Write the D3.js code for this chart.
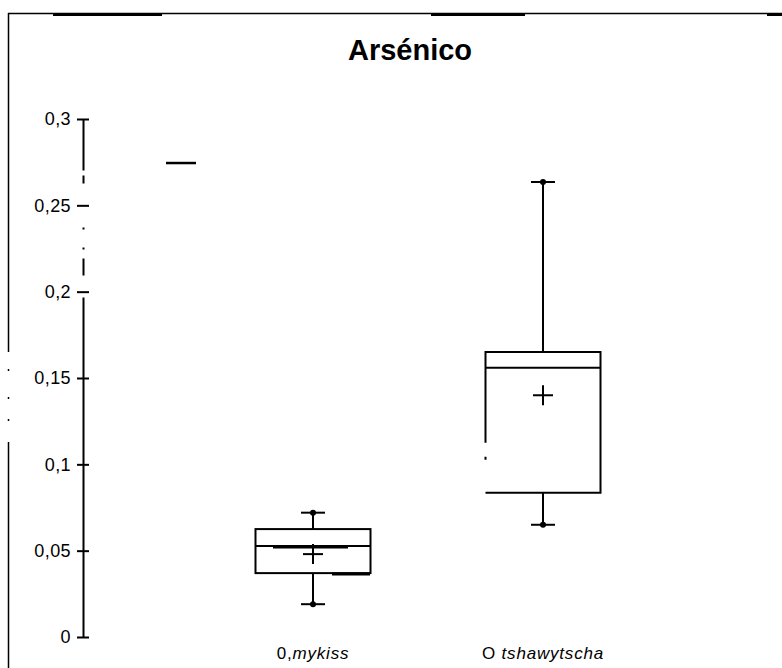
<!DOCTYPE html>
<html lang="es">
<head>
    <title>Arsénico - box plot</title>
    <meta charset="UTF-8">
    <script type="text/javascript" src="https://cdn.jsdelivr.net/npm/d3@7"></script>
    <style>
        body {
            margin: 0;
            background: #fff;
        }

        svg text {
            font-family: "Liberation Sans", Arial, sans-serif;
            fill: #000;
        }

        .title {
            font-size: 29px;
            font-weight: bold;
        }

        .axis text {
            font-size: 18px;
            letter-spacing: 0.4px;
        }

        .cat-label {
            font-size: 17px;
            letter-spacing: 0.8px;
        }
    </style>
</head>
<body>
<div id="chart"></div>

<script type="text/javascript">
    // species labels as printed under the boxes
    var labelPrefix = ['0,', 'O '];
    var labelSpecies = ['mykiss', 'tshawytscha'];

    // box plot statistics
    var whiskerLow = [0.019, 0.065];
    var q1 = [0.037, 0.0835];
    var median = [0.0527, 0.156];
    var q3 = [0.0625, 0.165];
    var whiskerHigh = [0.072, 0.2635];
    var mean = [0.048, 0.14];

    var yTicks = [0, 0.05, 0.1, 0.15, 0.2, 0.25, 0.3];

    var width = 782, height = 668;
    var margin = {top: 119, right: 9, bottom: 31, left: 83};

    var svg = d3.select('#chart')
        .append('svg')
        .attr('width', width)
        .attr('height', height);

    var x = d3.scalePoint()
        .domain(labelSpecies)
        .range([margin.left, width - margin.right])
        .padding(1);

    var y = d3.scaleLinear()
        .domain([0, 0.3])
        .range([height - margin.bottom, margin.top]);

    var locale = d3.formatLocale({decimal: ',', thousands: '.', grouping: [3], currency: ['', '']});
    var fmt = locale.format('~g');

    // frame (scanned border, partly heavier)
    var frame = svg.append('g').attr('stroke', '#000').attr('fill', 'none');
    frame.append('line')
        .attr('x1', 8).attr('x2', width).attr('y1', 13.5).attr('y2', 13.5)
        .attr('stroke-width', 1.5);
    frame.append('line')
        .attr('x1', 8.5).attr('x2', 8.5).attr('y1', 13).attr('y2', height)
        .attr('stroke-width', 1.5)
        .attr('stroke-dasharray', '339 17 2 26 2 20 2 21 2000');
    [[53, 162], [431, 525], [767, 782]].forEach(function (s) {
        frame.append('line')
            .attr('x1', s[0]).attr('x2', s[1]).attr('y1', 14.5).attr('y2', 14.5)
            .attr('stroke-width', 3);
    });

    svg.append('text')
        .attr('class', 'title')
        .attr('x', 410)
        .attr('y', 60)
        .attr('text-anchor', 'middle')
        .text('Arsénico');

    // y axis, ticks crossing the line
    var yAxis = svg.append('g')
        .attr('class', 'axis')
        .attr('transform', 'translate(' + margin.left + ',0)')
        .call(d3.axisLeft(y).tickValues(yTicks).tickFormat(fmt).tickSizeOuter(0).tickPadding(6));
    yAxis.select('.domain')
        .attr('stroke-width', 2)
        .attr('stroke-dasharray', '340 22 17 9 2 18 2 44 8 5 51');
    yAxis.selectAll('.tick line')
        .attr('x1', -6).attr('x2', 6)
        .attr('stroke-width', 2);
    yAxis.selectAll('.tick text')
        .attr('fill', '#000');

    var boxW = 115, capW = 12, crossW = 10;

    var boxes = svg.append('g')
        .attr('stroke', '#000')
        .attr('stroke-width', 2)
        .attr('fill', 'none');

    labelSpecies.forEach(function (sp, i) {
        var cx = x(sp);
        var g = boxes.append('g');

        // whiskers
        g.append('line').attr('x1', cx).attr('x2', cx).attr('y1', y(q3[i])).attr('y2', y(whiskerHigh[i]));
        g.append('line').attr('x1', cx).attr('x2', cx).attr('y1', y(q1[i])).attr('y2', y(whiskerLow[i]));
        [whiskerLow[i], whiskerHigh[i]].forEach(function (v) {
            g.append('line').attr('x1', cx - capW).attr('x2', cx + capW).attr('y1', y(v)).attr('y2', y(v));
            g.append('circle').attr('cx', cx).attr('cy', y(v)).attr('r', 3).attr('fill', '#000').attr('stroke', 'none');
        });

        // box
        var h = y(q1[i]) - y(q3[i]);
        var rect = g.append('rect')
            .attr('x', cx - boxW / 2)
            .attr('y', y(q3[i]))
            .attr('width', boxW)
            .attr('height', h)
            .attr('fill', '#fff');
        if (i === 1) {
            // broken left edge of the scan
            rect.attr('stroke-dasharray', [boxW + h + boxW, 33, 3, 14, h - 50].join(' '));
        }

        // median
        g.append('line')
            .attr('x1', cx - boxW / 2).attr('x2', cx + boxW / 2)
            .attr('y1', y(median[i])).attr('y2', y(median[i]));

        // mean
        g.append('line').attr('x1', cx - crossW).attr('x2', cx + crossW).attr('y1', y(mean[i])).attr('y2', y(mean[i]));
        g.append('line').attr('x1', cx).attr('x2', cx).attr('y1', y(mean[i]) - crossW).attr('y2', y(mean[i]) + crossW);

        // category label
        var t = svg.append('text')
            .attr('class', 'cat-label')
            .attr('x', cx)
            .attr('y', 659)
            .attr('text-anchor', 'middle');
        t.append('tspan').text(labelPrefix[i]);
        t.append('tspan').attr('font-style', 'italic').text(sp);
    });

    // heavy scan smudges on the first box
    var x0 = x(labelSpecies[0]);
    boxes.append('line')
        .attr('x1', x0 - 40).attr('x2', x0 + 35)
        .attr('y1', y(median[0]) + 1).attr('y2', y(median[0]) + 1)
        .attr('stroke-width', 3);
    boxes.append('line')
        .attr('x1', x0 + 19).attr('x2', x0 + 57)
        .attr('y1', y(q1[0]) + 1).attr('y2', y(q1[0]) + 1)
        .attr('stroke-width', 3);

    // stray mark near the top of the plot
    boxes.append('line')
        .attr('x1', x0 - 147).attr('x2', x0 - 117)
        .attr('y1', y(0.2745)).attr('y2', y(0.2745))
        .attr('stroke-width', 2.5);
</script>
</body>
</html>
